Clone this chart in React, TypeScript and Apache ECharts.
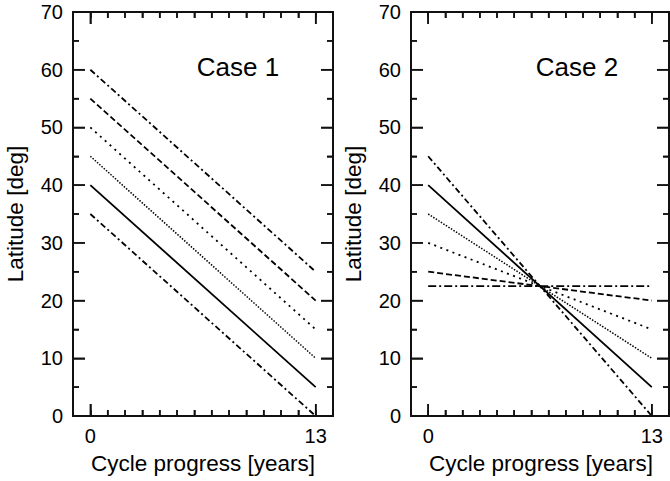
import { useEffect, useRef } from 'react'
import * as echarts from 'echarts'

// data: straight migration paths from cycle start to end
const years = [0, 13]
const case1Start = [60, 55, 50, 45, 40, 35]
const case1End = [25, 20, 15, 10, 5, 0]
const case2Start = [45, 40, 35, 30, 25, 22.5]
const case2End = [0, 5, 10, 15, 20, 22.5]

// axis ranges and ticks
const xRange = [-1, 14]
const yRange = [0, 70]
const xMajorTicks = [0, 13]
const xMinorTicks = [1, 2, 3, 4, 5, 6, 7, 8, 9, 10, 11, 12]
const yMajorTicks = [0, 10, 20, 30, 40, 50, 60, 70]
const yMinorTicks = [5, 15, 25, 35, 45, 55, 65]

const panelTitles = ['Case 1', 'Case 2']
const xTitle = 'Cycle progress [years]'
const yTitle = 'Latitude [deg]'

const FONT = 'Liberation Sans, Arial, Helvetica, sans-serif'
const INK = '#111111'

type Dash = { width: number; type: 'solid' | number[] }
const solid: Dash = { width: 1.8, type: 'solid' }
const dashed: Dash = { width: 1.8, type: [6, 3] }
const dots: Dash = { width: 1.8, type: [2, 4.5] }
const fineDots: Dash = { width: 1.5, type: [1.5, 1.5] }
const dashDot: Dash = { width: 1.8, type: [6, 3, 2, 3] }
const longDashDot: Dash = { width: 1.8, type: [8, 3, 2, 3] }

// styles follow the order of the data arrays
const styles1 = [dashDot, dashed, dots, fineDots, solid, dashDot]
const styles2 = [dashDot, solid, fineDots, dots, dashed, longDashDot]

const panels = [
  { left: 73, top: 12, width: 260, height: 404 },
  { left: 411, top: 12, width: 258, height: 404 }
]
const titlePos = [
  [238, 67],
  [577, 67]
]
const yTitleX = [15, 353]

const MAJOR = 12
const MINOR = 6
const labelStyle = { fontSize: 20, margin: 10, color: '#000', fontFamily: FONT }

const tick = (length: number, extra: object = {}) => ({
  show: true,
  inside: true,
  length,
  lineStyle: { color: INK, width: 1.5 },
  ...extra
})
const frame = () => ({ show: true, onZero: false, lineStyle: { color: INK, width: 2 } })
const hidden = () => ({ show: false, onZero: false })

function xAxes(p: number) {
  const base = () => ({
    type: 'value',
    gridIndex: p,
    min: xRange[0],
    max: xRange[1],
    splitLine: { show: false }
  })
  return [
    {
      ...base(),
      position: 'bottom',
      axisLine: frame(),
      axisTick: tick(MAJOR, { customValues: xMajorTicks }),
      axisLabel: { show: true, customValues: xMajorTicks, ...labelStyle }
    },
    { ...base(), position: 'bottom', interval: 1, axisLine: hidden(), axisTick: tick(MINOR), axisLabel: { show: false } },
    {
      ...base(),
      position: 'top',
      axisLine: frame(),
      axisTick: tick(MAJOR, { customValues: xMajorTicks }),
      axisLabel: { show: false }
    },
    { ...base(), position: 'top', interval: 1, axisLine: hidden(), axisTick: tick(MINOR), axisLabel: { show: false } }
  ]
}

function yAxes(p: number) {
  const base = () => ({
    type: 'value',
    gridIndex: p,
    min: yRange[0],
    max: yRange[1],
    interval: 10,
    axisLine: frame(),
    splitLine: { show: false },
    axisTick: tick(MAJOR),
    minorTick: { show: true, splitNumber: 2, length: MINOR, lineStyle: { color: INK, width: 1.5 } }
  })
  return [
    { ...base(), position: 'left', axisLabel: { show: true, ...labelStyle } },
    { ...base(), position: 'right', axisLabel: { show: false } }
  ]
}

function lines(start: number[], end: number[], styles: Dash[], p: number) {
  return start.map((s, i) => ({
    type: 'line',
    xAxisIndex: p * 4,
    yAxisIndex: p * 2,
    data: [
      [years[0], s],
      [years[1], end[i]]
    ],
    symbol: 'none',
    lineStyle: { color: '#000', ...styles[i] }
  }))
}

// box frame with inward ticks, placed through the axis scales
function frameSeries(p: number) {
  return {
    type: 'custom',
    coordinateSystem: 'cartesian2d',
    xAxisIndex: p * 4,
    yAxisIndex: p * 2,
    data: [[0, 0]],
    clip: false,
    silent: true,
    z: 10,
    renderItem: (_params: unknown, api: any) => {
      const [x0, y0] = api.coord([xRange[0], yRange[1]])
      const [x1, y1] = api.coord([xRange[1], yRange[0]])
      const seg = (a: number, b: number, c: number, d: number) => ({
        type: 'line',
        shape: { x1: a, y1: b, x2: c, y2: d },
        style: { stroke: INK, lineWidth: 1.5 }
      })
      const children: any[] = [
        {
          type: 'rect',
          shape: { x: x0, y: y0, width: x1 - x0, height: y1 - y0 },
          style: { stroke: INK, lineWidth: 2, fill: 'none' }
        }
      ]
      const yTicks = (vals: number[], len: number) =>
        vals.forEach((v) => {
          const y = api.coord([0, v])[1]
          children.push(seg(x0, y, x0 + len, y), seg(x1, y, x1 - len, y))
        })
      const xTicks = (vals: number[], len: number) =>
        vals.forEach((v) => {
          const x = api.coord([v, 0])[0]
          children.push(seg(x, y1, x, y1 - len), seg(x, y0, x, y0 + len))
        })
      yTicks(yMajorTicks, MAJOR)
      yTicks(yMinorTicks, MINOR)
      xTicks(xMajorTicks, MAJOR)
      xTicks(xMinorTicks, MINOR)
      return { type: 'group', children }
    }
  }
}

function label(t: string, x: number, y: number, size: number, rotation = 0) {
  return {
    type: 'text',
    x,
    y,
    rotation,
    style: {
      text: t,
      fontSize: size,
      fontFamily: FONT,
      fill: '#000',
      align: 'center',
      verticalAlign: 'middle'
    }
  }
}

export default function App() {
  const ref = useRef<HTMLDivElement | null>(null)

  useEffect(() => {
    if (!ref.current) return
    const chart = echarts.init(ref.current, null, { renderer: 'svg' })

    chart.setOption({
      animation: false,
      grid: panels.map((g) => ({ ...g, show: true, borderColor: INK, borderWidth: 2 })),
      xAxis: [...xAxes(0), ...xAxes(1)],
      yAxis: [...yAxes(0), ...yAxes(1)],
      graphic: [
        ...panelTitles.map((t, i) => label(t, titlePos[i][0], titlePos[i][1], 26)),
        ...panels.map((g) => label(xTitle, g.left + 130, 463, 22.5)),
        ...yTitleX.map((x) => label(yTitle, x, 214, 22.5, Math.PI / 2))
      ],
      series: [
        ...lines(case1Start, case1End, styles1, 0),
        ...lines(case2Start, case2End, styles2, 1),
        frameSeries(0),
        frameSeries(1)
      ]
    })

    return () => chart.dispose()
  }, [])

  return (
    <div
      ref={ref}
      style={{ position: 'fixed', left: 0, top: 0, width: 670, height: 481, background: '#fff' }}
    />
  )
}
